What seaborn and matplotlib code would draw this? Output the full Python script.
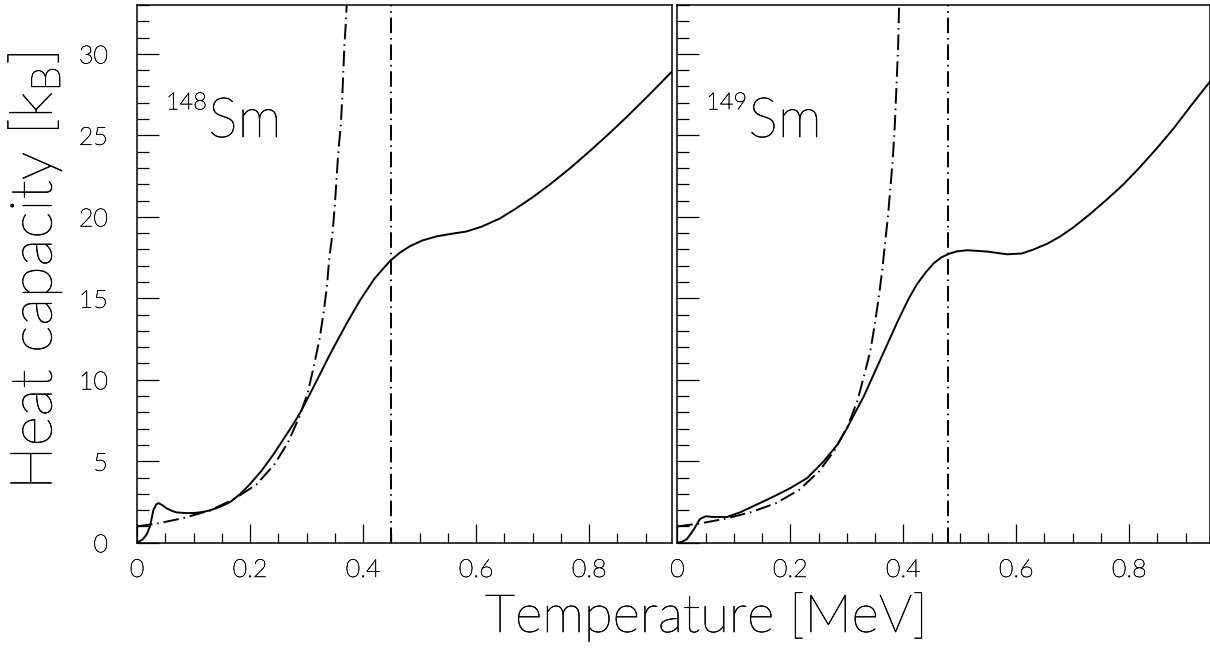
import numpy as np
import pandas as pd
import matplotlib
matplotlib.use('Agg')
import matplotlib.pyplot as plt
import matplotlib.patheffects as pe
from matplotlib import font_manager
from matplotlib.ticker import MultipleLocator
import seaborn as sns

# --- data ---
# 148Sm, solid curve
t148 = [0, 0.010, 0.017, 0.023, 0.029, 0.034, 0.038, 0.045, 0.053, 0.062, 0.070, 0.085, 0.100,
        0.115, 0.129, 0.147, 0.165, 0.183, 0.200, 0.220, 0.241, 0.260, 0.277, 0.289, 0.310, 0.342,
        0.370, 0.395, 0.420, 0.435, 0.448, 0.465, 0.483, 0.505, 0.530, 0.555, 0.583, 0.610, 0.642,
        0.670, 0.700, 0.731, 0.765, 0.800, 0.835, 0.867, 0.905, 0.946]
c148 = [0, 0.2, 0.5, 1.0, 2.0, 2.35, 2.43, 2.3, 2.1, 1.95, 1.86, 1.82, 1.82,
        1.88, 1.98, 2.2, 2.5, 3.0, 3.6, 4.4, 5.4, 6.4, 7.3, 8.0, 9.4, 11.6,
        13.4, 14.9, 16.2, 16.8, 17.3, 17.8, 18.2, 18.55, 18.8, 18.95, 19.1, 19.4, 19.9,
        20.5, 21.2, 22.0, 22.95, 24.0, 25.1, 26.15, 27.45, 28.9]
# 148Sm, dash-dot curve
t148_dd = [0, 0.035, 0.082, 0.129, 0.170, 0.211, 0.243, 0.267, 0.287, 0.302, 0.313, 0.323,
           0.330, 0.336, 0.340, 0.346, 0.350, 0.353, 0.356, 0.3605, 0.363, 0.365, 0.367, 0.370, 0.372]
c148_dd = [1.0, 1.17, 1.51, 1.98, 2.64, 3.56, 4.8, 6.15, 7.7, 9.2, 10.86, 12.5,
           14.1, 15.7, 17.4, 19.0, 20.7, 22.3, 23.9, 25.6, 27.2, 28.9, 30.55, 32.2, 34.0]
tc148 = 0.449

# 149Sm, solid curve
t149 = [0, 0.008, 0.017, 0.029, 0.040, 0.050, 0.064, 0.088, 0.111, 0.135, 0.159, 0.180, 0.200,
        0.230, 0.259, 0.283, 0.300, 0.312, 0.330, 0.359, 0.389, 0.400, 0.410, 0.424, 0.440, 0.454,
        0.467, 0.480, 0.495, 0.513, 0.548, 0.584, 0.610, 0.631, 0.655, 0.678, 0.701, 0.730, 0.760,
        0.790, 0.819, 0.850, 0.878, 0.910, 0.943]
c149 = [0, 0.05, 0.22, 0.8, 1.45, 1.62, 1.58, 1.58, 1.86, 2.25, 2.64, 3.0, 3.35,
        3.97, 4.99, 6.0, 7.0, 7.8, 8.97, 11.2, 13.5, 14.3, 15.0, 15.85, 16.6, 17.15,
        17.5, 17.72, 17.88, 17.95, 17.87, 17.7, 17.75, 18.0, 18.35, 18.8, 19.35, 20.15, 21.05,
        22.0, 23.05, 24.25, 25.4, 26.85, 28.3]
# 149Sm, dash-dot curve
t149_dd = [0, 0.038, 0.085, 0.131, 0.175, 0.216, 0.251, 0.279, 0.302, 0.319, 0.331, 0.342,
           0.350, 0.357, 0.363, 0.368, 0.373, 0.377, 0.381, 0.385, 0.388, 0.391, 0.393]
c149_dd = [1.0, 1.17, 1.47, 1.88, 2.43, 3.25, 4.38, 5.7, 7.18, 8.73, 10.3, 11.8,
           13.5, 15.15, 16.8, 18.45, 20.06, 21.7, 23.3, 25.6, 28.0, 30.6, 33.5]
tc149 = 0.480

nuclei = ['148', '149']


def pick_light():
    for fam in ['Lato', 'Roboto', 'Open Sans', 'Noto Sans']:
        ws = []
        for f in font_manager.fontManager.ttflist:
            if f.name == fam and f.style == 'normal':
                w = f.weight if isinstance(f.weight, int) else font_manager.weight_dict.get(f.weight, 400)
                ws.append(w)
        light = [w for w in ws if 200 <= w <= 300]
        if light:
            return fam, min(light)
    return 'DejaVu Sans', 400


sns.set_theme(style='white')
fam, wt = pick_light()
plt.rcParams['font.family'] = [fam, 'DejaVu Sans']
plt.rcParams['font.weight'] = wt
plt.rcParams['mathtext.default'] = 'regular'

# thin font strokes darkened a little, like the plotter font of the original
ink = [pe.withStroke(linewidth=0.45, foreground='black')]
ink_small = [pe.withStroke(linewidth=0.35, foreground='black')]

W, H = 1210, 648
fig = plt.figure(figsize=(W / 100, H / 100), dpi=100)
bot = (H - 542.7) / H
hgt = (542.7 - 5) / H
ax1 = fig.add_axes([137 / W, bot, 534.7 / W, hgt])
ax2 = fig.add_axes([677.3 / W, bot, 532.7 / W, hgt], sharey=ax1)

dd = (8, 2.5, 0.8, 2.5)
sets = [(ax1, t148, c148, t148_dd, c148_dd, tc148, 0.946, nuclei[0]),
        (ax2, t149, c149, t149_dd, c149_dd, tc149, 0.943, nuclei[1])]

for ax, t, c, td, cd, tc, xmax, A in sets:
    sns.lineplot(x=t, y=c, ax=ax, color='black', lw=1.4, estimator=None, sort=False)
    sns.lineplot(x=td, y=cd, ax=ax, color='black', lw=1.4, estimator=None, sort=False)
    ax.lines[-1].set_dashes(dd)
    ax.axvline(tc, color='black', lw=1.4, dashes=dd)

    ax.set_xlim(0, xmax)
    ax.set_ylim(0, 33)
    ax.xaxis.set_major_locator(MultipleLocator(0.2))
    ax.xaxis.set_minor_locator(MultipleLocator(0.05))
    ax.yaxis.set_major_locator(MultipleLocator(5))
    ax.yaxis.set_minor_locator(MultipleLocator(1))
    ax.xaxis.set_major_formatter(lambda v, p: '0' if abs(v) < 1e-9 else f'{v:.1f}')
    ax.tick_params(which='both', direction='in', bottom=True, left=True, top=False, right=False,
                   color='black', width=0.9, labelsize=18, labelcolor='black')
    ax.tick_params(axis='x', which='major', length=13.7, pad=11)
    ax.tick_params(axis='x', which='minor', length=7)
    ax.tick_params(axis='y', which='major', length=15.8, pad=21)
    ax.tick_params(axis='y', which='minor', length=8.6)
    for s in ax.spines.values():
        s.set_color('black')
        s.set_linewidth(1.1)
    ax.set_xlabel('')
    ax.set_ylabel('')
    for lab in ax.get_xticklabels() + ax.get_yticklabels():
        lab.set_path_effects(ink_small)

    ax.text(0.124, 26.6, A, ha='right', va='baseline', fontsize=17, color='black',
            path_effects=ink_small)
    ax.text(0.126, 24.9, 'Sm', ha='left', va='baseline', fontsize=40, color='black',
            path_effects=ink)

ax2.tick_params(axis='y', labelleft=False)

fig.text(485 / W, 1 - 632 / H, 'Temperature [MeV]', ha='left', va='baseline',
         fontsize=38, color='black', path_effects=ink)
fig.text(52 / W, 1 - 490 / H, 'Heat capacity [k$_\\mathregular{B}$]', rotation=90,
         rotation_mode='anchor', ha='left', va='baseline', fontsize=42, color='black',
         path_effects=ink)

fig.savefig('out.png', dpi=100)
